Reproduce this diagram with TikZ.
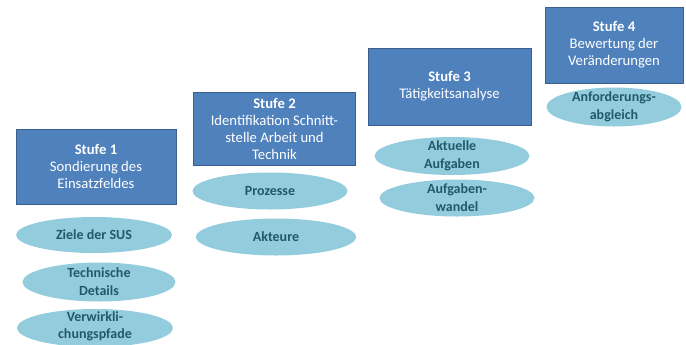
\documentclass[tikz,border=0pt]{standalone}
\usepackage{fontspec}
\setmainfont{Carlito}
\usetikzlibrary{shapes.geometric}
\definecolor{boxfill}{HTML}{4F81BD}
\definecolor{boxline}{HTML}{3A5F8E}
\definecolor{ellfill}{HTML}{93CDDD}
\definecolor{elltext}{HTML}{215968}
\tikzset{
  stufe/.style={rectangle, fill=boxfill, draw=boxline, line width=0.6pt,
    text=white, align=center, inner sep=0pt,
    font=\fontsize{11}{12.8}\selectfont},
  ell/.style={ellipse, fill=ellfill, draw=none, inner sep=0pt},
  elltxt/.style={text=elltext, align=center, inner sep=0pt,
    font=\fontsize{10.5}{13.4}\selectfont\bfseries},
}
\begin{document}
\begin{tikzpicture}[x=0.75pt,y=-0.75pt]
\useasboundingbox (0,0) rectangle (686,344);
% boxes
\node[stufe, minimum width=120pt, minimum height=56.25pt] (s1) at (96,166.5)
  {\textbf{Stufe 1}\\Sondierung des\\Einsatzfeldes};
\node[stufe, minimum width=121.5pt, minimum height=54.75pt] (s2) at (274.5,129)
  {\textbf{Stufe 2}\\Identifikation Schnitt-\\stelle Arbeit und\\Technik};
\node[stufe, minimum width=122.25pt, minimum height=57.75pt] (s3) at (449.5,86.5)
  {\textbf{Stufe 3}\\Tätigkeitsanalyse};
\node[stufe, minimum width=103.5pt, minimum height=57pt] (s4) at (614,45)
  {\textbf{Stufe 4}\\Bewertung der\\Veränderungen};
% ellipses
\node[ell, minimum width=117pt, minimum height=27pt,
  label={[elltxt]center:Ziele der SUS}] (e1a) at (94,235) {};
\node[ell, minimum width=114.75pt, minimum height=29.25pt,
  label={[elltxt]center:Technische\\Details}] (e1b) at (99,282) {};
\node[ell, minimum width=117pt, minimum height=28.5pt,
  label={[elltxt, yshift=1.5pt, font=\fontsize{10.5}{12.6}\selectfont\bfseries]center:Verwirkli-\\chungspfade}] (e1c) at (95,328) {};
\node[ell, minimum width=116.25pt, minimum height=27.75pt,
  label={[elltxt]center:Prozesse}] (e2a) at (270,191) {};
\node[ell, minimum width=120pt, minimum height=27.75pt,
  label={[elltxt]center:Akteure}] (e2b) at (276,237) {};
\node[ell, minimum width=116.25pt, minimum height=28.5pt,
  label={[elltxt]center:Aktuelle\\Aufgaben}] (e3a) at (452,156) {};
\node[ell, minimum width=116.25pt, minimum height=27.75pt,
  label={[elltxt]center:Aufgaben-\\wandel}] (e3b) at (457,198) {};
\node[ell, minimum width=101.25pt, minimum height=29.25pt,
  label={[elltxt]center:Anforderungs-\\abgleich}] (e4a) at (614,107) {};
\end{tikzpicture}
\end{document}
